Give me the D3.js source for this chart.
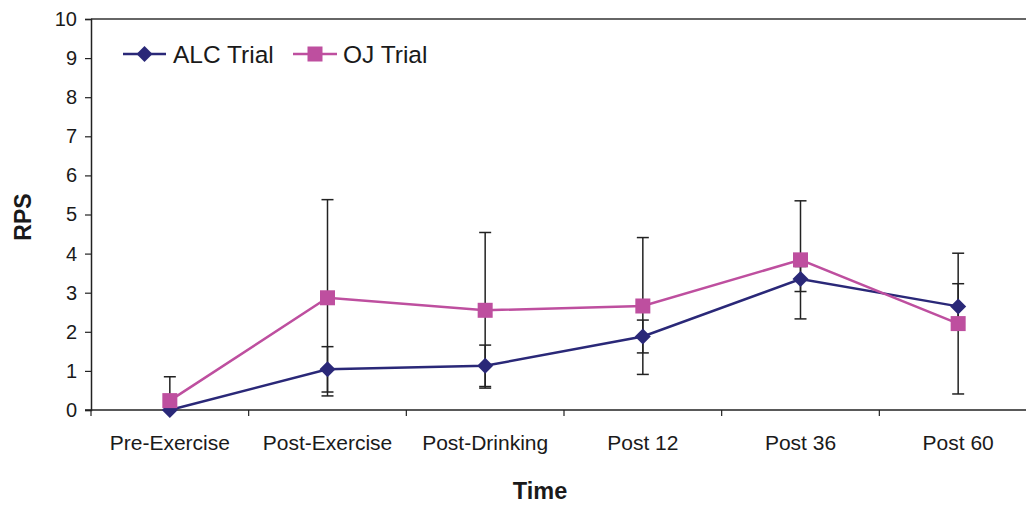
<!DOCTYPE html>
<html>
<head>
<meta charset="utf-8">
<script src="https://cdn.jsdelivr.net/npm/d3@7"></script>
<style>
  html, body { margin: 0; padding: 0; background: #fff; }
  svg { display: block; }
  text { font-family: "Liberation Sans", Arial, sans-serif; fill: #1a1a1a; }
</style>
</head>
<body>
<svg id="chart" width="1026" height="505"></svg>
<script>
// Time points on the x axis
const categories = ["Pre-Exercise", "Post-Exercise", "Post-Drinking", "Post 12", "Post 36", "Post 60"];

// Mean RPS per time point and standard deviation for each trial
const alcMean = [0.0, 1.04, 1.13, 1.88, 3.35, 2.65];
const alcSD   = [0.0, 0.58, 0.53, 0.42, 0.32, 0.58];
const ojMean  = [0.24, 2.87, 2.55, 2.66, 3.84, 2.21];
const ojSD    = [0.61, 2.51, 1.99, 1.75, 1.51, 1.80];

const yTicks = [0, 1, 2, 3, 4, 5, 6, 7, 8, 9, 10];

const seriesNames = ["ALC Trial", "OJ Trial"];
const alcColor = "#2a2878";
const ojColor = "#be4f9f";

const svg = d3.select("#chart");
const plotLeft = 91, plotTop = 19, plotBottom = 410, plotRight = 1037;

const x = d3.scaleBand().domain(categories).range([plotLeft, plotRight]).padding(0);
const y = d3.scaleLinear().domain([0, 10]).range([plotBottom, plotTop]);

// Plot area top border
svg.append("line")
  .attr("x1", plotLeft).attr("x2", 1026)
  .attr("y1", y(10)).attr("y2", y(10))
  .attr("stroke", "#666").attr("stroke-width", 2);

// Y axis
const yAxis = svg.append("g")
  .attr("transform", `translate(${plotLeft},0)`)
  .call(d3.axisLeft(y).tickValues(yTicks).tickSize(6).tickPadding(8).tickFormat(d3.format("d")));
yAxis.select(".domain").attr("stroke", "#222").attr("stroke-width", 1.5);
yAxis.selectAll(".tick line").attr("stroke", "#222").attr("stroke-width", 1.2);
yAxis.selectAll(".tick text").style("font-size", "20px").attr("fill", "#1a1a1a");

// X axis with tick marks at the category boundaries
const xAxisG = svg.append("g").attr("transform", `translate(0,${plotBottom})`);
xAxisG.append("line")
  .attr("x1", plotLeft - 6).attr("x2", 1026)
  .attr("y1", 0).attr("y2", 0)
  .attr("stroke", "#222").attr("stroke-width", 1.5);
xAxisG.selectAll("line.bnd")
  .data(categories)
  .join("line")
  .attr("class", "bnd")
  .attr("x1", d => x(d)).attr("x2", d => x(d))
  .attr("y1", 0).attr("y2", 6)
  .attr("stroke", "#222").attr("stroke-width", 1.2);
xAxisG.selectAll("text")
  .data(categories)
  .join("text")
  .attr("x", d => x(d) + x.bandwidth() / 2)
  .attr("y", 40)
  .attr("text-anchor", "middle")
  .style("font-size", "21px")
  .text(d => d);

// Axis titles
svg.append("text")
  .attr("transform", `translate(31,217) rotate(-90)`)
  .attr("text-anchor", "middle")
  .style("font-size", "23px").style("font-weight", "bold")
  .text("RPS");
svg.append("text")
  .attr("x", 540).attr("y", 499)
  .attr("text-anchor", "middle")
  .style("font-size", "23.5px").style("font-weight", "bold")
  .text("Time");

const cx = d => x(d) + x.bandwidth() / 2;

// Error bars (drawn first, markers cover them)
function errorBars(means, sds) {
  const g = svg.append("g");
  categories.forEach((c, i) => {
    if (sds[i] <= 0) return;
    const lo = Math.max(0, means[i] - sds[i]);
    const hi = means[i] + sds[i];
    const xc = cx(c);
    g.append("line").attr("x1", xc).attr("x2", xc)
      .attr("y1", y(lo)).attr("y2", y(hi))
      .attr("stroke", "#222").attr("stroke-width", 1.5);
    g.append("line").attr("x1", xc - 6).attr("x2", xc + 6)
      .attr("y1", y(hi)).attr("y2", y(hi))
      .attr("stroke", "#222").attr("stroke-width", 1.5);
    if (means[i] - sds[i] >= 0) {
      g.append("line").attr("x1", xc - 6).attr("x2", xc + 6)
        .attr("y1", y(lo)).attr("y2", y(lo))
        .attr("stroke", "#222").attr("stroke-width", 1.5);
    }
  });
}
errorBars(ojMean, ojSD);
errorBars(alcMean, alcSD);

const line = d3.line().x((d, i) => cx(categories[i])).y(d => y(d));

// ALC series
svg.append("path").datum(alcMean)
  .attr("d", line).attr("fill", "none")
  .attr("stroke", alcColor).attr("stroke-width", 2.5);
// OJ series
svg.append("path").datum(ojMean)
  .attr("d", line).attr("fill", "none")
  .attr("stroke", ojColor).attr("stroke-width", 2.5);

// Diamond marker: a square turned by 45 degrees
const diamond = d3.symbol().type(d3.symbolSquare).size(128);
svg.append("g").selectAll("path")
  .data(alcMean)
  .join("path")
  .attr("d", diamond)
  .attr("transform", (d, i) => `translate(${cx(categories[i])},${y(d)}) rotate(45)`)
  .attr("fill", alcColor);

svg.append("g").selectAll("rect")
  .data(ojMean)
  .join("rect")
  .attr("x", (d, i) => cx(categories[i]) - 7.5)
  .attr("y", d => y(d) - 7.5)
  .attr("width", 15).attr("height", 15)
  .attr("fill", ojColor);

// Legend
const legend = svg.append("g");
legend.append("line").attr("x1", 123).attr("x2", 166).attr("y1", 54).attr("y2", 54)
  .attr("stroke", alcColor).attr("stroke-width", 2.5);
legend.append("path").attr("d", diamond)
  .attr("transform", "translate(144.5,54) rotate(45)").attr("fill", alcColor);
legend.append("text").attr("x", 173).attr("y", 63)
  .style("font-size", "24.5px").text(seriesNames[0]);
legend.append("line").attr("x1", 293).attr("x2", 337).attr("y1", 54).attr("y2", 54)
  .attr("stroke", ojColor).attr("stroke-width", 2.5);
legend.append("rect").attr("x", 307.5).attr("y", 46.5).attr("width", 15).attr("height", 15)
  .attr("fill", ojColor);
legend.append("text").attr("x", 343).attr("y", 63)
  .style("font-size", "24.5px").text(seriesNames[1]);
</script>
</body>
</html>
